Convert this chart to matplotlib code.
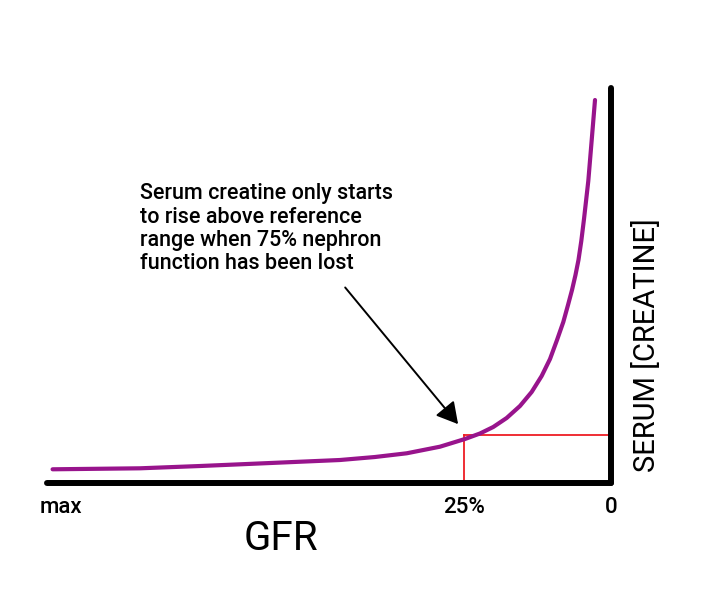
import matplotlib.pyplot as plt

# GFR (% of normal, axis runs from max on the left to 0 on the right)
gfr = [94.95, 80.10, 69.90, 63.10, 46.09, 40.14, 34.74, 29.08, 24.83, 22.28, 20.02,
       17.74, 15.48, 13.49, 11.79, 10.37, 9.18, 8.11, 7.31, 6.63, 6.04, 5.53, 5.05,
       4.59, 3.86, 3.28, 2.72]
# serum creatinine (arbitrary units)
creat = [3.47, 3.72, 4.30, 4.73, 5.82, 6.58, 7.52, 9.19, 11.14, 12.53, 14.18,
         16.46, 19.49, 23.04, 27.09, 31.39, 36.20, 40.76, 45.06, 48.86, 52.66, 56.46, 61.27,
         66.84, 76.46, 86.84, 96.96]

threshold_gfr = 25
threshold_creat = 12.15
tick_pos = [93.5, 25, 0]
tick_labels = ['max', '25%', '0']
note = ("Serum creatine only starts\nto rise above reference\n"
        "range when 75% nephron\nfunction has been lost")

plt.rcParams['font.family'] = ['Roboto', 'DejaVu Sans']

fig = plt.figure(figsize=(7.13, 6.06), dpi=100)
ax = fig.add_axes([47/713, 1 - 483/606, (611 - 47)/713, (483 - 88)/606])

ax.plot(gfr, creat, color='#98148c', lw=3, solid_capstyle='round',
        solid_joinstyle='round', zorder=3)
ax.plot([threshold_gfr, threshold_gfr], [0, threshold_creat], color='#ee1c24', lw=1.3, zorder=2)
ax.plot([threshold_gfr, 0], [threshold_creat, threshold_creat], color='#ee1c24', lw=1.3, zorder=2)

ax.set_xlim(95.9, 0)
ax.set_ylim(0, 100)

for side in ['top', 'left']:
    ax.spines[side].set_visible(False)
for side in ['bottom', 'right']:
    ax.spines[side].set_linewidth(4.3)
    ax.spines[side].set_capstyle('round')

ax.set_yticks([])
ax.set_xticks(tick_pos)
ax.set_xticklabels(tick_labels, fontsize=16, fontweight='medium')
ax.tick_params(axis='x', length=0, pad=10)

ax.set_xlabel('GFR', fontsize=29)
ax.xaxis.label.set_va('center')
ax.xaxis.set_label_coords((281 - 47) / (611 - 47), (483 - 539) / 395)
ax.yaxis.set_label_position('right')
ax.set_ylabel('SERUM [CREATINE]', fontsize=21, rotation=90)
ax.yaxis.label.set_va('center')
ax.yaxis.set_label_coords((647 - 47) / (611 - 47), (483 - 345) / 395)

ax.annotate('', xy=(26.0, 14.9), xytext=(45.2, 49.5),
            arrowprops=dict(arrowstyle='-|>,head_length=0.5,head_width=0.28',
                            mutation_scale=26, lw=1.4, color='black',
                            shrinkA=0, shrinkB=0))
ax.text(80.1, 75.9, note, fontsize=15.5, fontweight='medium', va='top', ha='left',
        linespacing=1.15)

fig.savefig('out.png', dpi=100)
